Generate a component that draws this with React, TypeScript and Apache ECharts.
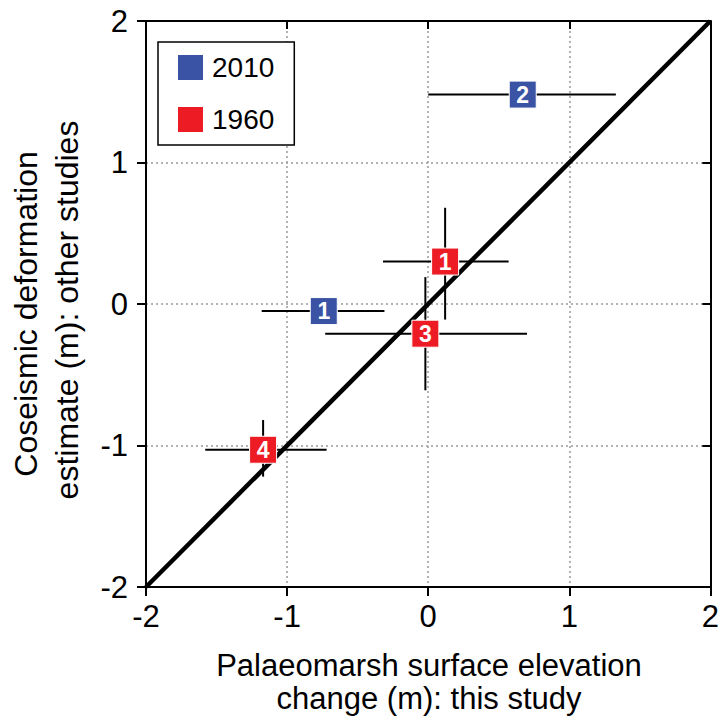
import React, { useEffect, useRef } from "react";
import * as echarts from "echarts";

const FONT = "'Liberation Sans', Arial, sans-serif";
const BLUE = "#3A53A4";
const RED = "#ED1C24";

// 2010 earthquake
const labels2010 = ["1", "2"];
const x2010 = [-0.74, 0.67];
const y2010 = [-0.05, 1.48];
const xLo2010 = [-1.18, 0.0];
const xHi2010 = [-0.31, 1.33];

// 1960 earthquake
const labels1960 = ["1", "3", "4"];
const x1960 = [0.12, -0.02, -1.17];
const y1960 = [0.3, -0.21, -1.03];
const xLo1960 = [-0.32, -0.73, -1.58];
const xHi1960 = [0.57, 0.7, -0.72];
const yLo1960 = [-0.11, -0.61, -1.22];
const yHi1960 = [0.68, 0.19, -0.82];

const oneToOne = [
  [-2, -2],
  [2, 2],
];

export default function App() {
  const ref = useRef<HTMLDivElement>(null);
  useEffect(() => {
    if (!ref.current) return;
    const chart = echarts.init(ref.current, null, { renderer: "svg" });

    const errData: number[][] = [];
    x2010.forEach((x, i) => errData.push([x, y2010[i], xLo2010[i], xHi2010[i], NaN, NaN]));
    x1960.forEach((x, i) =>
      errData.push([x, y1960[i], xLo1960[i], xHi1960[i], yLo1960[i], yHi1960[i]])
    );

    const pts = (xs: number[], ys: number[], ls: string[]) =>
      xs.map((x, i) => ({ value: [x, ys[i]], name: ls[i] }));

    const axisCommon = {
      type: "value",
      min: -2,
      max: 2,
      interval: 1,
    };

    const tickLabel = {
      color: "#000",
      fontSize: 31,
      fontFamily: FONT,
      formatter: (v: number) => String(v),
    };

    const titleText = (text: string, x: number, y: number, rot: number, size: number) => ({
      type: "text",
      x,
      y,
      rotation: rot,
      style: {
        text,
        fontSize: size,
        fontFamily: FONT,
        fill: "#000",
        align: "center",
        verticalAlign: "middle",
      },
    });

    const markerLabel = {
      show: true,
      position: "inside",
      formatter: (p: any) => p.name,
      color: "#fff",
      fontSize: 23,
      fontWeight: "bold",
      fontFamily: FONT,
    };

    chart.setOption({
      animation: false,
      grid: { left: 146, right: 10, top: 21, bottom: 135, containLabel: false },
      xAxis: [
        {
          ...axisCommon,
          position: "bottom",
          axisLine: { show: true, onZero: false, lineStyle: { color: "#000", width: 2 } },
          axisTick: { show: true, length: 9, lineStyle: { color: "#000", width: 2 } },
          axisLabel: { ...tickLabel, margin: 14 },
          splitLine: { show: true, lineStyle: { color: "#999", type: [2, 3], width: 1.5 } },
        },
        {
          ...axisCommon,
          position: "top",
          axisLine: { show: true, onZero: false, lineStyle: { color: "#000", width: 2 } },
          axisTick: { show: true, inside: true, length: 8, lineStyle: { color: "#000", width: 2 } },
          axisLabel: { show: false },
          splitLine: { show: false },
        },
      ],
      yAxis: [
        {
          ...axisCommon,
          position: "left",
          axisLine: { show: true, onZero: false, lineStyle: { color: "#000", width: 2 } },
          axisTick: { show: true, length: 9, lineStyle: { color: "#000", width: 2 } },
          axisLabel: { ...tickLabel, margin: 18 },
          splitLine: { show: true, lineStyle: { color: "#999", type: [2, 3], width: 1.5 } },
        },
        {
          ...axisCommon,
          position: "right",
          axisLine: { show: true, onZero: false, lineStyle: { color: "#000", width: 2 } },
          axisTick: { show: true, inside: true, length: 8, lineStyle: { color: "#000", width: 2 } },
          axisLabel: { show: false },
          splitLine: { show: false },
        },
      ],
      legend: {
        orient: "vertical",
        left: 158,
        top: 42,
        padding: [11, 20, 11, 18],
        itemGap: 23,
        itemWidth: 27,
        itemHeight: 27,
        borderColor: "#000",
        borderWidth: 1.5,
        backgroundColor: "#fff",
        textStyle: { fontSize: 28, fontFamily: FONT, color: "#000", padding: [0, 0, 0, 3] },
        data: [
          { name: "2010", icon: "rect", itemStyle: { color: BLUE, opacity: 1 } },
          { name: "1960", icon: "rect", itemStyle: { color: RED, opacity: 1 } },
        ],
      },
      graphic: [
        titleText("Coseismic deformation", 26, 314, Math.PI / 2, 32),
        titleText("estimate (m): other studies", 67, 310, Math.PI / 2, 32),
        titleText("Palaeomarsh surface elevation", 429, 665, 0, 31),
        titleText("change (m): this study", 429, 698, 0, 31),
      ],
      series: [
        {
          type: "custom",
          name: "errors",
          z: 1,
          data: errData,
          renderItem: (_params: any, api: any) => {
            const x = api.value(0);
            const y = api.value(1);
            const children: any[] = [];
            const xl = api.coord([api.value(2), y]);
            const xh = api.coord([api.value(3), y]);
            children.push({
              type: "line",
              shape: { x1: xl[0], y1: xl[1], x2: xh[0], y2: xh[1] },
              style: { stroke: "#000", lineWidth: 2 },
            });
            const ylo = api.value(4);
            const yhi = api.value(5);
            if (!isNaN(ylo) && !isNaN(yhi)) {
              const yl = api.coord([x, ylo]);
              const yh = api.coord([x, yhi]);
              children.push({
                type: "line",
                shape: { x1: yl[0], y1: yl[1], x2: yh[0], y2: yh[1] },
                style: { stroke: "#000", lineWidth: 2 },
              });
            }
            return { type: "group", children };
          },
        },
        {
          type: "line",
          name: "1:1",
          z: 2,
          data: oneToOne,
          symbol: "none",
          lineStyle: { color: "#000", width: 4.5 },
          silent: true,
        },
        {
          type: "scatter",
          name: "2010",
          z: 3,
          symbol: "rect",
          symbolSize: 27,
          itemStyle: { color: BLUE, opacity: 1, borderColor: "#fff", borderWidth: 1 },
          label: markerLabel,
          data: pts(x2010, y2010, labels2010),
        },
        {
          type: "scatter",
          name: "1960",
          z: 3,
          symbol: "rect",
          symbolSize: 27,
          itemStyle: { color: RED, opacity: 1, borderColor: "#fff", borderWidth: 1 },
          label: markerLabel,
          data: pts(x1960, y1960, labels1960),
        },
      ],
    });
    return () => chart.dispose();
  }, []);

  return <div ref={ref} style={{ width: 722, height: 722, position: "absolute", left: 0, top: 0 }} />;
}
